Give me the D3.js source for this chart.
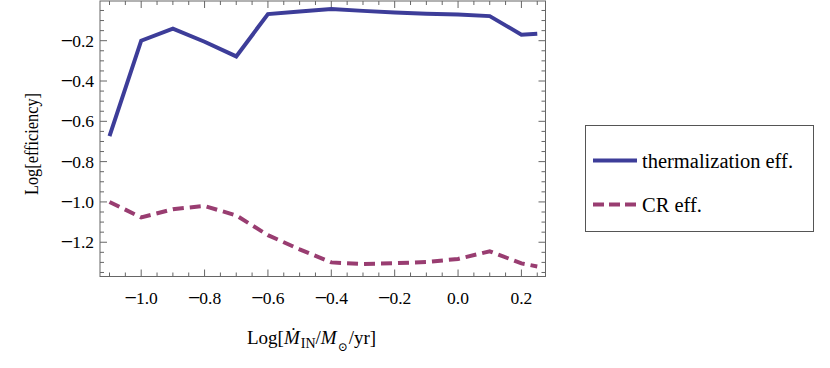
<!DOCTYPE html>
<meta charset="utf-8">
<style>
  body { margin: 0; background: #fff; }
  svg text { font-family: "Liberation Serif", "Times New Roman", Times, "DejaVu Serif", serif; fill: #000; }
  .frame { fill: none; stroke: #666; stroke-width: 1; }
  .tick line { stroke: #666; }
</style>
<body>
<script src="https://d3js.org/d3.v7.min.js"></script>
<script>

// data
var xVals = [-1.1, -1.0, -0.9, -0.8, -0.7, -0.6, -0.5, -0.4, -0.3, -0.2, -0.1, 0.0, 0.1, 0.2, 0.25];
var thermal = [-0.674, -0.200, -0.140, -0.205, -0.278, -0.068, -0.055, -0.043, -0.052, -0.060, -0.066, -0.070, -0.078, -0.170, -0.165];
var crEff = [-1.000, -1.077, -1.036, -1.020, -1.067, -1.165, -1.235, -1.300, -1.308, -1.304, -1.298, -1.283, -1.245, -1.305, -1.320];
var xTicks = [-1.0, -0.8, -0.6, -0.4, -0.2, 0.0, 0.2];
var yTicks = [-1.2, -1.0, -0.8, -0.6, -0.4, -0.2];
var seriesNames = ["thermalization eff.", "CR eff."];

var width = 830, height = 368;
var frame = {left: 100, right: 545.5, top: 1, bottom: 276.5};

var x = d3.scaleLinear().domain([-1.13, 0.276]).range([frame.left, frame.right]);
var y = d3.scaleLinear().domain([-1.37, -0.003]).range([frame.bottom, frame.top]);

var svg = d3.select("body").append("svg")
    .attr("width", width)
    .attr("height", height)
    .attr("font-family", "'Liberation Serif', 'Times New Roman', serif");

// minor ticks every 0.05
var xMinor = d3.range(-1.10, 0.2751, 0.05).map(function(d) { return +d.toFixed(2); });
var yMinor = d3.range(-1.35, -0.0049, 0.05).map(function(d) { return +d.toFixed(2); });
function isMajor(v) { return Math.abs(v * 5 - Math.round(v * 5)) < 1e-6; }

var ticks = svg.append("g").attr("class", "tick");
xMinor.forEach(function(v) {
  var len = isMajor(v) ? 7 : 4;
  ticks.append("line").attr("x1", x(v)).attr("x2", x(v)).attr("y1", frame.bottom).attr("y2", frame.bottom - len);
  ticks.append("line").attr("x1", x(v)).attr("x2", x(v)).attr("y1", frame.top).attr("y2", frame.top + len);
});
yMinor.forEach(function(v) {
  var len = isMajor(v) ? 7 : 4;
  ticks.append("line").attr("y1", y(v)).attr("y2", y(v)).attr("x1", frame.left).attr("x2", frame.left + len);
  ticks.append("line").attr("y1", y(v)).attr("y2", y(v)).attr("x1", frame.right).attr("x2", frame.right - len);
});

svg.append("rect").attr("class", "frame")
    .attr("x", frame.left).attr("y", frame.top)
    .attr("width", frame.right - frame.left).attr("height", frame.bottom - frame.top);

// tick label: a slightly longer minus sign like the original, then the number
function tickLabel(sel) {
  sel.each(function(d) {
    var t = d3.select(this);
    if (d < 0) {
      t.append("tspan").style("font-size", "22px").attr("dy", 1).text("\u2212");
      t.append("tspan").attr("dx", -1).attr("dy", -1).text(Math.abs(d).toFixed(1));
    } else {
      t.text(d.toFixed(1));
    }
  });
}

svg.append("g").selectAll("text").data(xTicks).enter().append("text")
    .attr("x", function(d) { return x(d); })
    .attr("y", frame.bottom + 27)
    .attr("text-anchor", "middle")
    .style("font-size", "17.5px")
    .call(tickLabel);

svg.append("g").selectAll("text").data(yTicks).enter().append("text")
    .attr("x", frame.left - 6)
    .attr("y", function(d) { return y(d) + 6; })
    .attr("text-anchor", "end")
    .style("font-size", "17.5px")
    .call(tickLabel);

// axis titles
var xt = svg.append("text")
    .attr("x", 247).attr("y", 344)
    .style("font-size", "19px");
xt.append("tspan").text("Log[");
xt.append("tspan").style("font-style", "italic").text("\u1E40");
xt.append("tspan").attr("dy", 4).attr("dx", 1).style("font-size", "14px").text("IN");
xt.append("tspan").attr("dy", -4).text("/");
xt.append("tspan").style("font-style", "italic").text("M");
xt.append("tspan").attr("dy", 7).attr("dx", 1).style("font-size", "12px").text("\u2299");
xt.append("tspan").attr("dy", -7).attr("dx", 1).text("/yr]");

svg.append("text")
    .attr("transform", "translate(38,144) rotate(-90)")
    .attr("text-anchor", "middle")
    .attr("textLength", 102)
    .attr("lengthAdjust", "spacingAndGlyphs")
    .style("font-size", "18px")
    .text("Log[efficiency]");

var line = d3.line()
    .x(function(d) { return x(d[0]); })
    .y(function(d) { return y(d[1]); });

svg.append("path")
    .datum(d3.zip(xVals, thermal))
    .attr("d", line)
    .attr("fill", "none")
    .attr("stroke", "#3d3d99")
    .attr("stroke-width", 4)
    .attr("stroke-linejoin", "miter");

svg.append("path")
    .datum(d3.zip(xVals, crEff))
    .attr("d", line)
    .attr("fill", "none")
    .attr("stroke", "#993d71")
    .attr("stroke-width", 4)
    .attr("stroke-dasharray", "11,6");

// legend
var legend = svg.append("g");
legend.append("rect")
    .attr("x", 585.5).attr("y", 125.5)
    .attr("width", 228).attr("height", 106)
    .attr("fill", "#fff").attr("stroke", "#555").attr("stroke-width", 1);
var legendStyles = [{c: "#3d3d99", dash: null}, {c: "#993d71", dash: "11,5"}];
seriesNames.forEach(function(name, i) {
  var ly = 160.5 + i * 44;
  legend.append("line")
      .attr("x1", 593).attr("x2", 637)
      .attr("y1", ly).attr("y2", ly)
      .attr("stroke", legendStyles[i].c)
      .attr("stroke-width", 4)
      .attr("stroke-dasharray", legendStyles[i].dash);
  legend.append("text")
      .attr("x", 642).attr("y", ly + 7)
      .style("font-size", "20.5px")
      .text(name);
});

</script>
</body>
</html>
